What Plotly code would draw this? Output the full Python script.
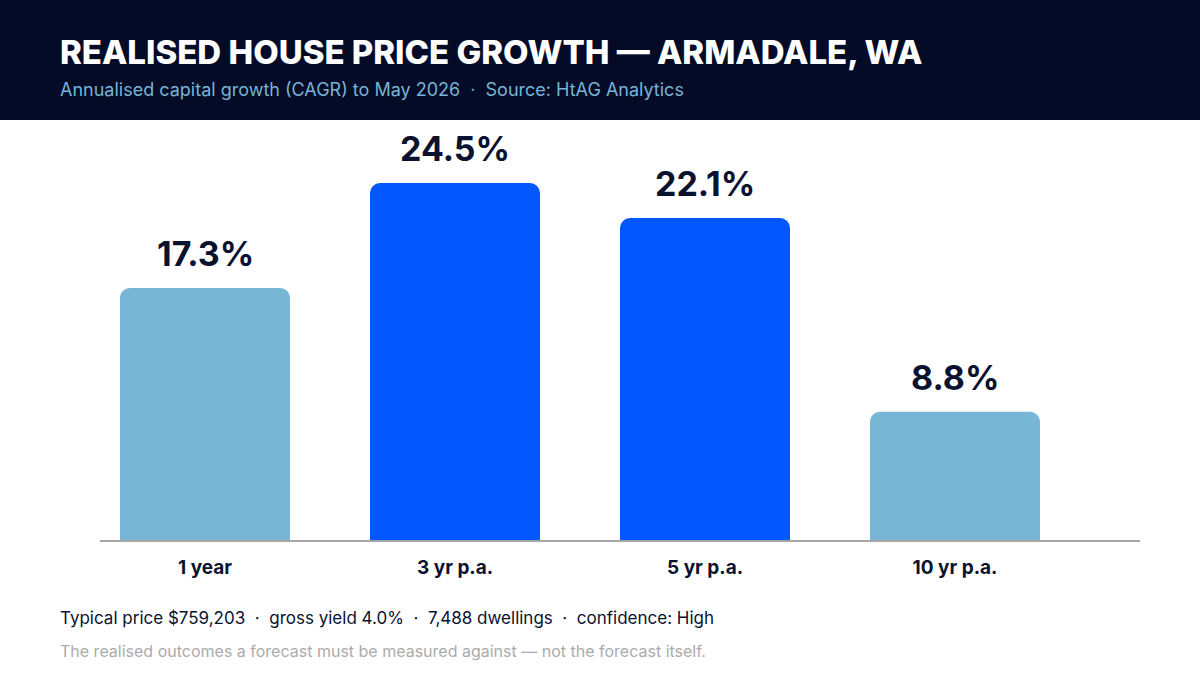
import plotly.graph_objects as go

categories = ["1 year", "3 yr p.a.", "5 yr p.a.", "10 yr p.a."]
growth = [17.3, 24.5, 22.1, 8.8]
bar_colors = ["#77b6d5", "#0357ff", "#0357ff", "#77b6d5"]
value_labels = ["17.3%", "24.5%", "22.1%", "8.8%"]

title = "REALISED HOUSE PRICE GROWTH — ARMADALE, WA"
subtitle = "Annualised capital growth (CAGR) to May 2026  ·  Source: HtAG Analytics"
footer = "Typical price $759,203  ·  gross yield 4.0%  ·  7,488 dwellings  ·  confidence: High"
note = "The realised outcomes a forecast must be measured against — not the forecast itself."

W, H = 1200, 700
NAVY = "#030b27"
INK = "#0b1230"

fig = go.Figure()
fig.add_trace(go.Bar(
    x=categories, y=growth,
    marker=dict(color=bar_colors, cornerradius=10, line=dict(width=0)),
    width=0.68, hoverinfo="skip",
))

for c, v, t in zip(categories, growth, value_labels):
    fig.add_annotation(x=c, y=v, xref="x", yref="y", text=f"<b>{t}</b>",
                       showarrow=False, yanchor="bottom", yshift=12,
                       font=dict(family="Inter", size=34, color=INK))

# header band
fig.add_shape(type="rect", xref="paper", yref="paper", x0=0, x1=1,
              y0=1 - 120 / H, y1=1, fillcolor=NAVY, line=dict(width=0), layer="below")
fig.add_annotation(xref="paper", yref="paper", x=58 / W, y=1 - 52 / H,
                   xanchor="left", yanchor="middle", showarrow=False,
                   text=title,
                   font=dict(family="Inter", size=33, color="#ffffff", weight=800))
fig.add_annotation(xref="paper", yref="paper", x=58 / W, y=1 - 90 / H,
                   xanchor="left", yanchor="middle", showarrow=False,
                   text=subtitle,
                   font=dict(family="Inter", size=18, color="#78b4d4"))
fig.add_annotation(xref="paper", yref="paper", x=58 / W, y=1 - 618 / H,
                   xanchor="left", yanchor="middle", showarrow=False,
                   text=footer,
                   font=dict(family="Inter", size=17, color=INK))
fig.add_annotation(xref="paper", yref="paper", x=58 / W, y=1 - 651 / H,
                   xanchor="left", yanchor="middle", showarrow=False,
                   text=note,
                   font=dict(family="Inter", size=16, color="#ababab"))

fig.update_layout(
    width=W, height=H,
    margin=dict(l=0, r=0, t=0, b=0),
    paper_bgcolor="#ffffff", plot_bgcolor="#ffffff",
    showlegend=False,
    xaxis=dict(domain=[100 / W, 1140 / W], range=[-0.42, 3.74],
               showline=True, linecolor="#a6a6a6", linewidth=2,
               showgrid=False, zeroline=False, ticks="",
               ticklabelstandoff=9,
               tickfont=dict(family="Inter", size=19, color=INK, weight="bold")),
    yaxis=dict(domain=[1 - 540 / H, 1 - 130 / H], range=[0, 28.14],
               visible=False, showgrid=False, zeroline=False),
)

fig.write_html("out.html")
